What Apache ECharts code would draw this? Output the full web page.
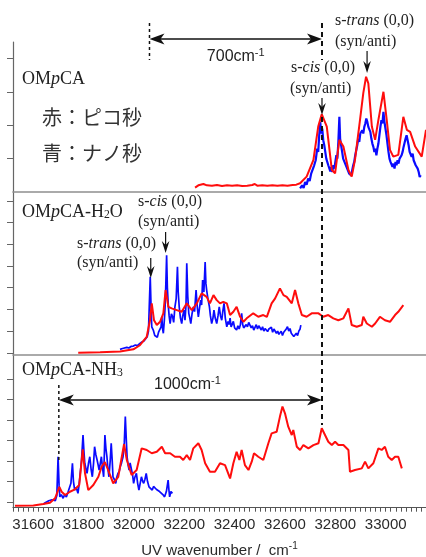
<!DOCTYPE html>
<html><head><meta charset="utf-8">
<script src="https://cdn.jsdelivr.net/npm/echarts@6/dist/echarts.min.js"></script>
<style>html,body{margin:0;padding:0;background:#fff}#c{width:426px;height:557px}</style>
</head><body><div id="c"></div><script>
// ---------- data ----------
const xTickLabels = [31600, 31800, 32000, 32200, 32400, 32600, 32800, 33000];
const topTicks = [1, 2, 3, 4];
const midTicks = [0, 1, 2, 3, 4, 5, 6, 7];
const botTicks = [0, 1, 2, 3, 4, 5, 6];

const topRed = [[32243,0.13],[32256,0.2],[32276,0.24],[32290,0.2],[32310,0.19],[32330,0.21],[32350,0.18],[32370,0.2],[32390,0.19],[32410,0.2],[32430,0.18],[32450,0.19],[32470,0.21],[32480,0.24],[32490,0.19],[32510,0.2],[32530,0.19],[32550,0.2],[32570,0.19],[32590,0.2],[32610,0.19],[32630,0.21],[32645,0.22],[32660,0.26],[32686,0.46],[32713,0.96],[32732,1.96],[32746,2.33],[32766,1.96],[32786,0.66],[32799,0.56],[32816,1.56],[32832,1.36],[32852,0.66],[32865,0.46],[32878,0.96],[32898,2.16],[32911,2.96],[32922,3.45],[32931,3.25],[32945,1.96],[32958,1.56],[32971,2.16],[32991,3.0],[33004,2.16],[33017,1.26],[33030,1.06],[33050,1.11],[33070,2.25],[33084,1.86],[33097,1.8],[33117,1.36],[33143,1.06],[33160,1.86]];

const topBlue = [[32660,0.11],[32668,0.2],[32674,0.12],[32680,0.3],[32686,0.22],[32692,0.4],[32698,0.33],[32704,0.55],[32710,0.5],[32716,0.8],[32722,0.95],[32728,1.3],[32732,1.2],[32736,1.7],[32740,2.1],[32744,1.75],[32748,1.9],[32752,1.55],[32756,1.4],[32760,1.2],[32764,1.0],[32768,1.05],[32772,0.8],[32776,0.85],[32780,0.62],[32784,0.75],[32788,0.6],[32792,0.8],[32796,0.7],[32800,0.9],[32804,1.1],[32808,1.0],[32812,1.5],[32816,2.25],[32819,1.6],[32823,1.4],[32827,1.2],[32831,1.0],[32835,1.05],[32839,0.85],[32843,0.8],[32847,0.7],[32851,0.75],[32855,0.55],[32859,0.6],[32863,0.5],[32867,0.65],[32871,0.8],[32875,0.9],[32879,1.1],[32883,1.05],[32887,1.4],[32891,1.6],[32895,1.5],[32899,1.75],[32903,1.7],[32907,1.85],[32911,1.75],[32915,1.95],[32919,2.05],[32923,2.2],[32927,2.1],[32931,1.95],[32935,2.0],[32939,1.8],[32943,1.6],[32947,1.45],[32951,1.35],[32955,1.2],[32959,1.3],[32963,1.1],[32967,1.3],[32971,1.45],[32975,1.7],[32979,1.95],[32983,2.15],[32987,2.05],[32991,2.4],[32995,2.1],[32999,1.9],[33003,1.7],[33007,1.45],[33011,1.2],[33015,1.0],[33019,0.9],[33023,0.95],[33027,0.75],[33031,0.85],[33035,0.7],[33039,0.9],[33043,0.8],[33047,0.95],[33051,0.85],[33055,1.0],[33059,0.95],[33063,1.1],[33067,1.2],[33071,1.35],[33075,1.4],[33079,1.6],[33083,1.7],[33087,1.55],[33091,1.4],[33095,1.2],[33099,1.25],[33103,1.05],[33107,1.15],[33111,0.95],[33115,1.0],[33119,0.8],[33123,0.85],[33127,0.7],[33131,0.6],[33135,0.45],[33139,0.5]];

const midRed = [[31779,0],[31866,0.03],[31945,0.06],[31998,0.16],[32024,0.35],[32051,0.74],[32064,1.5],[32071,2.28],[32080,1.5],[32091,1.28],[32104,1.43],[32117,1.82],[32126,2.89],[32137,2.12],[32150,2.05],[32170,1.97],[32190,1.89],[32210,2.28],[32230,1.97],[32250,2.28],[32269,2.74],[32289,2.58],[32302,2.28],[32316,2.66],[32329,2.43],[32342,2.28],[32355,2.35],[32369,2.28],[32382,1.74],[32395,1.89],[32408,2.12],[32422,1.66],[32435,1.43],[32448,1.59],[32474,1.82],[32494,1.66],[32514,1.74],[32528,1.66],[32547,2.28],[32561,2.51],[32580,2.97],[32594,2.66],[32607,2.58],[32627,2.28],[32640,2.89],[32653,2.28],[32667,1.74],[32686,1.66],[32706,1.82],[32733,1.82],[32752,1.66],[32772,1.74],[32792,1.59],[32812,1.5],[32832,1.59],[32852,2.05],[32865,1.28],[32885,1.2],[32905,1.28],[32911,1.66],[32925,1.35],[32945,1.2],[32958,1.35],[32977,1.66],[32997,1.5],[33017,1.43],[33037,1.74],[33050,1.89],[33070,2.2]];

const midBlue = [[31945,0.16],[31955,0.2],[31962,0.15],[31972,0.25],[31980,0.22],[31990,0.3],[31998,0.31],[32006,0.36],[32014,0.33],[32024,0.43],[32032,0.5],[32040,0.55],[32046,0.62],[32053,0.74],[32058,1.0],[32061,2.1],[32065,3.5],[32068,2.2],[32071,1.2],[32077,1.05],[32083,0.8],[32088,0.85],[32093,0.72],[32098,0.95],[32104,0.89],[32108,1.2],[32111,1.66],[32114,1.1],[32117,0.9],[32121,1.5],[32124,2.12],[32127,3.2],[32130,4.5],[32133,3.0],[32137,2.12],[32140,1.7],[32144,1.35],[32149,1.8],[32154,1.66],[32158,1.4],[32163,2.12],[32168,2.5],[32173,3.96],[32176,2.8],[32180,2.12],[32185,1.6],[32190,1.35],[32194,1.7],[32199,1.97],[32203,1.5],[32207,2.2],[32210,4.13],[32214,2.6],[32218,1.82],[32222,1.6],[32226,1.35],[32231,1.8],[32236,2.12],[32241,1.9],[32247,2.89],[32251,2.2],[32256,1.66],[32260,2.0],[32265,2.43],[32269,2.2],[32273,3.35],[32278,2.8],[32283,4.18],[32286,3.2],[32289,2.89],[32294,2.5],[32300,2.12],[32304,1.7],[32309,1.35],[32314,1.6],[32318,1.97],[32323,1.6],[32329,1.35],[32334,1.7],[32339,2.12],[32344,1.7],[32349,1.5],[32353,1.9],[32358,2.28],[32363,1.6],[32369,1.2],[32374,1.45],[32378,1.3],[32382,1.6],[32386,1.2],[32390,1.3],[32395,1.45],[32400,1.15],[32404,1.2],[32408,1.05],[32413,1.25],[32418,1.1],[32423,1.3],[32428,1.82],[32432,1.3],[32436,1.15],[32441,1.1],[32446,1.3],[32451,1.2],[32456,1.4],[32461,1.35],[32466,1.15],[32471,1.25],[32476,1.05],[32481,1.12],[32486,1.3],[32491,1.1],[32496,1.25],[32501,1.28],[32506,1.05],[32511,1.2],[32516,1.0],[32521,1.12],[32526,1.2],[32531,0.98],[32536,1.1],[32541,1.05],[32546,1.18],[32551,0.95],[32556,1.1],[32561,1.12],[32566,0.9],[32571,1.0],[32576,0.85],[32580,0.89],[32585,1.0],[32590,0.8],[32595,0.95],[32600,0.97],[32605,1.1],[32610,1.2],[32615,1.0],[32620,1.12],[32625,0.9],[32630,0.95],[32635,0.75],[32640,0.82],[32645,0.9],[32650,0.8],[32655,1.0],[32660,1.1],[32663,1.28]];

const botRed = [[31528,-0.2],[31601,-0.18],[31640,-0.11],[31667,-0.05],[31687,0.17],[31704,0.73],[31713,0.49],[31727,0.33],[31746,0.49],[31766,0.61],[31783,0.82],[31797,2.56],[31806,1.39],[31819,0.57],[31839,0.82],[31859,1.22],[31872,1.71],[31885,1.94],[31898,1.55],[31918,0.9],[31938,1.22],[31961,2.81],[31972,2.04],[31991,1.31],[32011,1.55],[32031,2.61],[32051,2.53],[32071,2.37],[32091,2.44],[32111,2.69],[32124,2.37],[32144,2.37],[32163,2.2],[32183,2.2],[32196,2.04],[32210,2.28],[32223,2.04],[32236,2.61],[32256,2.86],[32269,2.53],[32283,1.88],[32302,1.47],[32322,1.47],[32342,1.88],[32362,1.79],[32382,1.14],[32395,1.88],[32408,2.44],[32419,2.04],[32428,2.53],[32441,1.79],[32455,1.55],[32468,1.96],[32477,2.37],[32494,2.2],[32514,2.04],[32534,2.86],[32547,3.34],[32567,3.42],[32580,4.16],[32590,4.65],[32600,4.32],[32613,3.67],[32627,3.26],[32633,3.51],[32647,2.69],[32660,2.53],[32673,2.77],[32693,2.61],[32713,2.77],[32733,2.86],[32746,3.59],[32759,3.26],[32772,2.93],[32786,2.77],[32799,2.93],[32812,2.77],[32832,2.77],[32852,2.53],[32858,1.47],[32878,1.55],[32905,1.63],[32918,1.96],[32931,1.63],[32951,1.88],[32971,2.61],[32984,2.53],[32997,2.69],[33010,2.2],[33024,2.04],[33037,2.2],[33050,2.2],[33064,1.63]];

const botBlue = [[31640,-0.12],[31648,-0.05],[31655,-0.1],[31662,0.05],[31668,0.0],[31675,0.1],[31682,0.02],[31688,0.05],[31694,0.3],[31699,2.2],[31703,0.8],[31706,0.24],[31712,0.35],[31719,0.17],[31725,0.35],[31732,0.24],[31738,0.45],[31745,0.41],[31750,0.9],[31756,1.88],[31760,1.0],[31765,0.57],[31771,0.7],[31778,0.41],[31783,0.9],[31787,1.39],[31792,2.0],[31798,3.26],[31802,2.4],[31805,1.88],[31810,1.6],[31814,1.39],[31820,1.9],[31825,2.2],[31830,1.6],[31835,1.22],[31840,1.9],[31844,2.69],[31849,2.3],[31854,2.04],[31858,1.8],[31862,1.55],[31867,1.9],[31871,2.2],[31876,1.6],[31880,1.22],[31885,3.26],[31889,2.6],[31893,2.2],[31897,1.6],[31901,1.22],[31906,2.0],[31910,2.86],[31914,2.0],[31917,1.22],[31922,1.1],[31928,0.9],[31932,1.2],[31937,1.39],[31942,1.5],[31946,1.71],[31951,1.9],[31957,2.2],[31962,2.9],[31966,4.16],[31970,3.0],[31973,2.2],[31977,1.8],[31981,1.55],[31985,1.9],[31990,1.88],[31995,1.3],[31999,0.9],[32004,1.2],[32010,1.39],[32015,0.9],[32020,0.57],[32025,0.9],[32030,1.22],[32035,1.0],[32039,0.9],[32044,1.1],[32049,1.39],[32054,1.0],[32060,0.73],[32066,0.8],[32073,0.57],[32078,0.75],[32083,0.73],[32090,0.6],[32096,0.57],[32102,0.5],[32109,0.41],[32115,0.35],[32122,0.24],[32129,0.5],[32136,1.06],[32139,0.6],[32142,0.24],[32147,0.5],[32153,0.41]];

// annotation anchor wavenumbers
const refCis = 32747, ref700Left = 32062, ref1000Left = 31702;
const transTopX = 32926, cisMidX = 32126, transMidX = 32067;

// ---------- chart ----------
const XMIN = 31520, XMAX = 33160;
const chart = echarts.init(document.getElementById('c'), null, {renderer: 'canvas'});
const SANS = 'Liberation Sans, Arial, sans-serif';
const SERIF = 'Liberation Serif, Times New Roman, serif';

function xAx(i, bottom) {
  return {
    type: 'value', gridIndex: i, min: XMIN, max: XMAX, interval: 20,
    axisLine: {show: true, onZero: false, lineStyle: {color: bottom ? '#555' : '#8f8f8f', width: bottom ? 1.2 : 1.6}},
    axisTick: {show: !!bottom, length: 4, lineStyle: {color: '#555', width: 1}},
    axisLabel: {show: !!bottom, hideOverlap: false, margin: 10, fontFamily: SANS, fontSize: 15, color: '#2a2a2a',
      formatter: v => xTickLabels.includes(Math.round(v)) ? String(Math.round(v)) : ''},
    splitLine: {show: false},
    name: bottom ? '{a|UV wavenumber /  cm}{s|-1}' : '',
    nameLocation: 'middle', nameGap: 34,
    nameTextStyle: {rich: {a: {fontFamily: SANS, fontSize: 15, color: '#2a2a2a'}, s: {fontFamily: SANS, fontSize: 10, color: '#2a2a2a', verticalAlign: 'top', padding: [0,0,8,0]}}}
  };
}
function yAx(i, min, max, ticks) {
  return {
    type: 'value', gridIndex: i, min: min, max: max,
    axisLine: {show: true, lineStyle: {color: '#666', width: 1.2}},
    axisTick: {show: true, inside: false, length: 6, customValues: ticks, lineStyle: {color: '#666'}},
    axisLabel: {show: false}, splitLine: {show: false}
  };
}
function ln(data, color, w, xi, z) {
  return {type: 'line', data: data, xAxisIndex: xi, yAxisIndex: xi, showSymbol: false, symbol: 'none',
    lineStyle: {color: color, width: w}, z: z, animation: false, silent: true};
}

chart.setOption({
  animation: false,
  backgroundColor: '#fff',
  grid: [
    {left: 13, right: 0, top: 42, height: 150, outerBoundsMode: 'none', containLabel: false},
    {left: 13, right: 0, top: 192, height: 163, outerBoundsMode: 'none', containLabel: false},
    {left: 13, right: 0, top: 355, height: 152.7, outerBoundsMode: 'none', containLabel: false}
  ],
  xAxis: [xAx(0, false), xAx(1, false), xAx(2, true)],
  yAxis: [yAx(0, 0, 4.49, topTicks), yAx(1, -0.1, 7.41, midTicks), yAx(2, -0.29, 7.17, botTicks)],
  series: [
    ln(topBlue, '#0a0aff', 2.2, 0, 2), ln(topRed, '#ff0d0d', 2, 0, 3),
    ln(midBlue, '#0a0aff', 1.7, 1, 2), ln(midRed, '#ff0d0d', 2, 1, 3),
    ln(botBlue, '#0a0aff', 1.7, 2, 2), ln(botRed, '#ff0d0d', 2, 2, 3)
  ]
});

// ---------- annotations ----------
const px = v => chart.convertToPixel({xAxisIndex: 2}, v);
const G = [];
function line(x1, y1, x2, y2, w, dash) {
  G.push({type: 'line', z: 50, shape: {x1, y1, x2, y2}, style: {stroke: '#111', lineWidth: w, lineDash: dash || null}});
}
function poly(pts) { G.push({type: 'polygon', z: 51, shape: {points: pts}, style: {fill: '#111'}}); }
function dblArrow(x1, x2, y) {
  line(x1 + 8, y, x2 - 8, y, 1.6);
  poly([[x1, y], [x1 + 15, y - 5.5], [x1 + 11, y], [x1 + 15, y + 5.5]]);
  poly([[x2, y], [x2 - 15, y - 5.5], [x2 - 11, y], [x2 - 15, y + 5.5]]);
}
function downArrow(x, y1, y2) {
  line(x, y1, x, y2 - 6, 1.2);
  poly([[x, y2], [x - 3.8, y2 - 12], [x, y2 - 8], [x + 3.8, y2 - 12]]);
}
function text(x, y, t, font, size, align, rich, color) {
  G.push({type: 'text', z: 60, x: x, y: y, style: {text: t, fontFamily: font, fontSize: size, fill: color || '#222',
    align: align || 'left', verticalAlign: 'middle', rich: rich}});
}
const serifRich = (s) => ({r: {fontFamily: SERIF, fontSize: s, fill: '#222'}, i: {fontFamily: SERIF, fontSize: s, fontStyle: 'italic', fill: '#222'},
  sub: {fontFamily: SERIF, fontSize: s * 0.65, fill: '#222', verticalAlign: 'bottom', padding: [6, 0, 0, 0]}});
const sansRich = {a: {fontFamily: SANS, fontSize: 16, fill: '#222'}, s: {fontFamily: SANS, fontSize: 11, fill: '#222', verticalAlign: 'top', padding: [0, 0, 8, 0]}};

const xc = px(refCis), x7 = px(ref700Left), x10 = px(ref1000Left);
line(xc, 23, xc, 60, 2, [5, 4]);
line(xc, 117, xc, 425, 2, [5, 4]);
line(x7, 23, x7, 60, 1.5, [3, 3]);
line(x10, 385, x10, 462, 1.5, [3, 3]);
dblArrow(x7, xc, 39);
dblArrow(x10, xc, 400);
text((x7 + xc) / 2, 57, '{a|700cm}{s|-1}', SANS, 16, 'center', sansRich);
text((x10 + xc) / 2 - 3, 385, '{a|1000cm}{s|-1}', SANS, 16, 'center', sansRich);

// top panel
text(22, 79, '{r|OM}{i|p}{r|CA}', SERIF, 18, 'left', serifRich(18));
text(42, 117, '赤：ピコ秒', 'Noto Sans CJK JP', 20, 'left', null, '#333');
text(42, 153, '青：ナノ秒', 'Noto Sans CJK JP', 20, 'left', null, '#333');
const xt = px(transTopX);
text(335, 21, '{r|s-}{i|trans}{r| (0,0)}', SERIF, 16, 'left', serifRich(16));
text(335, 42, '{r|(syn/anti)}', SERIF, 16, 'left', serifRich(16));
downArrow(xt, 51, 73);
text(291, 68, '{r|s-}{i|cis}{r| (0,0)}', SERIF, 16, 'left', serifRich(16));
text(290, 89, '{r|(syn/anti)}', SERIF, 16, 'left', serifRich(16));
downArrow(xc, 98, 115);

// middle panel
text(22, 212, '{r|OM}{i|p}{r|CA-H}{sub|2}{r|O}', SERIF, 18, 'left', serifRich(18));
const xcm = px(cisMidX), xtm = px(transMidX);
text(138, 202, '{r|s-}{i|cis}{r| (0,0)}', SERIF, 16, 'left', serifRich(16));
text(138, 222, '{r|(syn/anti)}', SERIF, 16, 'left', serifRich(16));
downArrow(xcm, 232, 253);
text(77, 244, '{r|s-}{i|trans}{r| (0,0)}', SERIF, 16, 'left', serifRich(16));
text(77, 263, '{r|(syn/anti)}', SERIF, 16, 'left', serifRich(16));
downArrow(xtm, 258, 278);

// bottom panel
text(22, 370, '{r|OM}{i|p}{r|CA-NH}{sub|3}', SERIF, 18, 'left', serifRich(18));

chart.setOption({graphic: G});
</script></body></html>
